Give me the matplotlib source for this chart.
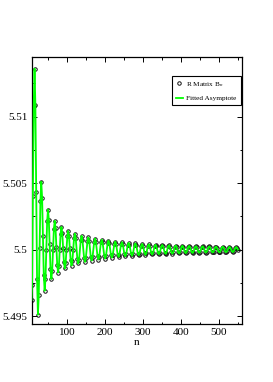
import matplotlib
matplotlib.use('Agg')
from matplotlib import pyplot as plt
from matplotlib.ticker import MultipleLocator

plt.rcParams['font.family'] = ['Liberation Serif', 'DejaVu Serif']
plt.rcParams['mathtext.fontset'] = 'stix'

# n values (denser in the first swings)
n_vals = [7, 8.4, 10.6, 12.8,
          15.0, 17.2, 19.4, 21.6, 23.9, 26.1, 28.3, 30.5,
          32.7, 34.9, 37.1, 39.3, 41.6, 43.8, 46.0, 48.2,
          50.4, 52.6, 54.8, 57.0, 59.3, 61.5, 63.7, 65.9,
          68.1, 70.3, 72.5, 74.7, 77.0, 79.2, 81.4, 83.6,
          85.8, 88.0, 90.2, 92.4, 94.7, 96.9, 99.1, 101.3,
          103.5, 105.7, 107.9, 110.1, 112.4, 114.6, 116.8, 119.0,
          121.2, 123.4, 127.8, 130.1, 132.3, 136.7, 138.9, 141.1, 145.5,
          147.8, 150.0, 154.4, 156.6, 158.8, 163.2, 165.5, 167.7, 172.1,
          174.3, 176.5, 180.9, 183.2, 185.4, 189.8, 192.0, 194.2, 198.6,
          200.9, 203.1, 207.5, 209.7, 211.9, 216.3, 218.6, 220.8, 225.2,
          227.4, 229.6, 234.0, 236.3, 238.5, 242.9, 245.1, 247.3, 251.7,
          254.0, 256.2, 260.6, 262.8, 265.0, 269.4, 271.7, 273.9, 278.3,
          280.5, 282.7, 287.1, 289.4, 291.6, 296.0, 298.2, 300.4, 304.8,
          307.1, 309.3, 313.7, 315.9, 318.1, 322.5, 324.8, 327.0, 331.4,
          333.6, 335.8, 340.2, 342.5, 344.7, 349.1, 351.3, 353.5, 357.9,
          360.2, 362.4, 366.8, 369.0, 371.2, 375.6, 377.9, 380.1, 384.5,
          386.7, 388.9, 393.3, 395.6, 397.8, 402.2, 404.4, 406.6, 411.0,
          413.3, 415.5, 419.9, 422.1, 424.3, 428.7, 431.0, 433.2, 437.6,
          439.8, 442.0, 446.4, 448.7, 450.9, 455.3, 457.5, 459.7, 464.1,
          466.4, 468.6, 473.0, 475.2, 477.4, 481.8, 484.1, 486.3, 490.7,
          492.9, 495.1, 499.5, 501.8, 504.0, 508.4, 510.6, 512.8, 517.2,
          519.5, 521.7, 526.1, 528.3, 530.5, 534.9, 537.2, 539.4, 543.8,
          546.0, 548.2, 550.4]

# R matrix B_n
bn_vals = [5.4962, 5.4973, 5.5040, 5.5108,
           5.5136, 5.51089, 5.50435, 5.49781, 5.4951, 5.49656, 5.5001, 5.50364,
           5.5051, 5.5039, 5.5010, 5.4981, 5.4969, 5.49779, 5.49995, 5.50211,
           5.5030, 5.50224, 5.50039, 5.49855, 5.49778, 5.49842, 5.49997, 5.50152,
           5.50216, 5.50159, 5.50022, 5.49884, 5.49827, 5.49877, 5.49999, 5.50120,
           5.50170, 5.50124, 5.50014, 5.49904, 5.49858, 5.49899, 5.49999, 5.50099,
           5.50140, 5.50101, 5.50010, 5.49918, 5.49879, 5.49914, 5.49999, 5.50084,
           5.50119, 5.50086, 5.49928, 5.49895, 5.49925, 5.50073, 5.50103, 5.50074, 5.49936,
           5.49907, 5.49934, 5.50064, 5.50091, 5.50066, 5.49942, 5.49917, 5.49942, 5.50058,
           5.50082, 5.50059, 5.49948, 5.49925, 5.49947, 5.50053, 5.50074, 5.50053, 5.49953,
           5.49932, 5.49952, 5.50048, 5.50067, 5.50048, 5.49958, 5.49939, 5.49957, 5.50043,
           5.50060, 5.50043, 5.49961, 5.49944, 5.49961, 5.50039, 5.50055, 5.50040, 5.49964,
           5.49949, 5.49964, 5.50036, 5.50050, 5.50035, 5.49967, 5.49953, 5.49967, 5.50033,
           5.50046, 5.50033, 5.49969, 5.49957, 5.49970, 5.50030, 5.50042, 5.50030, 5.49972,
           5.49960, 5.49972, 5.50028, 5.50039, 5.50028, 5.49974, 5.49963, 5.49974, 5.50026,
           5.50036, 5.50025, 5.49975, 5.49965, 5.49976, 5.50024, 5.50034, 5.50024, 5.49976,
           5.49967, 5.49977, 5.50023, 5.50032, 5.50022, 5.49978, 5.49969, 5.49978, 5.50022,
           5.50030, 5.50021, 5.49979, 5.49971, 5.49980, 5.50020, 5.50028, 5.50019, 5.49981,
           5.49973, 5.49981, 5.50019, 5.50027, 5.50019, 5.49981, 5.49974, 5.49982, 5.50018,
           5.50025, 5.50017, 5.49983, 5.49976, 5.49983, 5.50017, 5.50024, 5.50017, 5.49983,
           5.49977, 5.49984, 5.50016, 5.50023, 5.50016, 5.49984, 5.49978, 5.49984, 5.50016,
           5.50022, 5.50015, 5.49985, 5.49979, 5.49985, 5.50015, 5.50021, 5.50015, 5.49985,
           5.49980, 5.49986, 5.50014, 5.50020, 5.50014, 5.49986, 5.49981, 5.49987, 5.50013,
           5.50019, 5.50013, 5.50000]

x_ticks = [100, 200, 300, 400, 500]
x_tick_labels = ['100', '200', '300', '400', '500']
y_ticks = [5.495, 5.5, 5.505, 5.51]
y_tick_labels = ['5.495', '5.5', '5.505', '5.51']

fig = plt.figure(figsize=(2.73, 3.82), dpi=100)
ax = fig.add_axes([0.1154, 0.1518, 0.772, 0.6998])

ax.plot(n_vals, bn_vals, 'o', ms=2.5, mfc='none', mec='#111111', mew=0.7,
        label='R Matrix B$_n$', zorder=2)
ax.plot(n_vals, bn_vals, '-', color='#00ff00', lw=1.3,
        label='Fitted Asymptote', zorder=3)

ax.set_xlim(7, 562)
ax.set_ylim(5.4944, 5.5145)
ax.set_xticks(x_ticks)
ax.set_xticklabels(x_tick_labels)
ax.set_yticks(y_ticks)
ax.set_yticklabels(y_tick_labels)
ax.xaxis.set_minor_locator(MultipleLocator(50))
ax.yaxis.set_minor_locator(MultipleLocator(0.0025))
ax.tick_params(which='both', direction='in', top=True, right=True,
               labelsize=8, width=0.7, pad=3)
ax.tick_params(which='major', length=3.6)
ax.tick_params(which='minor', length=1.8)
for s in ax.spines.values():
    s.set_linewidth(0.9)

ax.set_xlabel('n', fontsize=8, labelpad=0.5)

leg = ax.legend(loc='upper right', bbox_to_anchor=(0.992, 0.928),
                borderaxespad=0, fontsize=5.2, fancybox=False, framealpha=1,
                edgecolor='black', handlelength=0.9, handletextpad=0.5,
                labelspacing=0.9, borderpad=0.55)
leg.get_frame().set_linewidth(0.8)

fig.savefig('out.png', dpi=100)
